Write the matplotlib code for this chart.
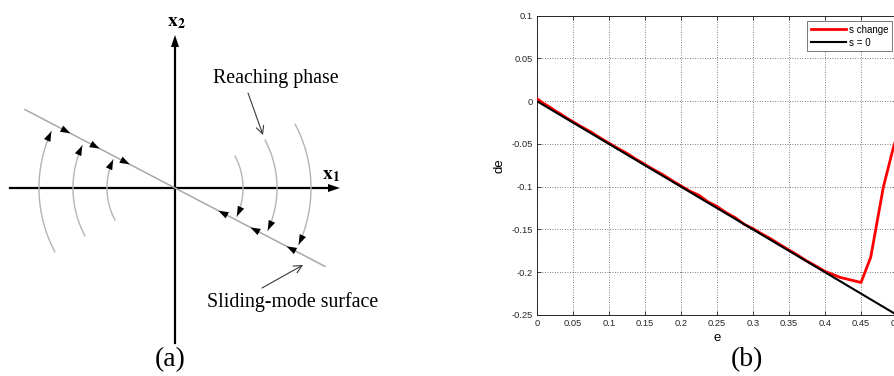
import numpy as np
import matplotlib
matplotlib.use("Agg")
import matplotlib.pyplot as plt
from matplotlib.patches import Polygon

plt.rcParams["axes.unicode_minus"] = False

# ---- (a) sliding-mode phase portrait (units: px, origin at axis crossing) ----
surface_angle = -27.6          # slope of the sliding surface, degrees
surface_ends = [-150, 150]     # x extent of the surface line
arc_radii = [68, 102, 136]
arc_start_left = 208           # arcs start below the x1 axis on the left
arc_start_right = 28           # and above it on the right
surface_arrow_dist_left = [51, 85, 118]
surface_arrow_dist_right = [49, 85, 126]

# ---- (b) phase trajectory e vs de ----
e_red = [0.000, 0.008, 0.016, 0.025, 0.033, 0.042, 0.050, 0.062, 0.075, 0.088,
         0.100, 0.112, 0.125, 0.138, 0.150, 0.162, 0.175, 0.188, 0.200, 0.212,
         0.225, 0.238, 0.250, 0.262, 0.275, 0.288, 0.300, 0.312, 0.325, 0.338,
         0.350, 0.362, 0.375, 0.388, 0.400, 0.421, 0.450, 0.4635, 0.481, 0.495,
         0.502]
de_red = [0.003, -0.002, -0.006, -0.011, -0.015, -0.020, -0.024, -0.030, -0.036, -0.043,
          -0.049, -0.055, -0.061, -0.068, -0.074, -0.080, -0.086, -0.093, -0.099, -0.105,
          -0.110, -0.118, -0.123, -0.130, -0.136, -0.144, -0.149, -0.155, -0.161, -0.168,
          -0.174, -0.180, -0.187, -0.193, -0.199, -0.206, -0.212, -0.1825, -0.1006, -0.054,
          -0.035]
e_s0 = [0.0, 0.5]
de_s0 = [0.0, -0.25]
xticks = [0, 0.05, 0.1, 0.15, 0.2, 0.25, 0.3, 0.35, 0.4, 0.45, 0.5]
xticklabels = ["0", "0.05", "0.1", "0.15", "0.2", "0.25", "0.3", "0.35", "0.4", "0.45", "0.5"]
yticks = [0.1, 0.05, 0, -0.05, -0.1, -0.15, -0.2, -0.25]
yticklabels = ["0.1", "0.05", "0", "-0.05", "-0.1", "-0.15", "-0.2", "-0.25"]

SERIF = "Liberation Serif"
SANS = "Liberation Sans"


def arrowhead(ax, x, y, angle_deg, length=10, half_width=3.5, color="black"):
    a = np.radians(angle_deg)
    d = np.array([np.cos(a), np.sin(a)])
    n = np.array([-d[1], d[0]])
    tip = np.array([x, y])
    base = tip - length * d
    pts = [tip, base + half_width * n, base - half_width * n]
    ax.add_patch(Polygon(pts, closed=True, color=color, lw=0, zorder=5))


fig = plt.figure(figsize=(8.95, 3.76), dpi=100)

ax_a = fig.add_axes([0, 0, 1, 1])
ax_a.set_xlim(-175, 720)
ax_a.set_ylim(-188, 188)
ax_a.axis("off")
ax_a.patch.set_alpha(0)

# coordinate axes
ax_a.plot([-165, 157], [0, 0], color="black", lw=1.6)
ax_a.plot([0, 0], [-155, 143], color="black", lw=1.6)
arrowhead(ax_a, 165, 0, 0, length=12, half_width=4)
arrowhead(ax_a, 0, 153, 90, length=12, half_width=4)
ax_a.text(156, 14, r"$\mathbf{x}_{\mathbf{1}}$", fontsize=14, math_fontfamily="stix",
          ha="center", va="center")
ax_a.text(1, 167, r"$\mathbf{x}_{\mathbf{2}}$", fontsize=14, math_fontfamily="stix",
          ha="center", va="center")

# sliding surface
slope = np.tan(np.radians(surface_angle))
sx = np.array(surface_ends)
ax_a.plot(sx, slope * sx, color="#a8a8a8", lw=1.1)

# reaching trajectories
for r in arc_radii:
    th = np.radians(np.linspace(arc_start_left, 180 + surface_angle + 3, 60))
    ax_a.plot(r * np.cos(th), r * np.sin(th), color="#b4b4b4", lw=1.0)
    end = th[-1]
    arrowhead(ax_a, r * np.cos(end), r * np.sin(end), np.degrees(end) - 90)

    th = np.radians(np.linspace(arc_start_right, surface_angle + 3, 60))
    ax_a.plot(r * np.cos(th), r * np.sin(th), color="#b4b4b4", lw=1.0)
    end = th[-1]
    arrowhead(ax_a, r * np.cos(end), r * np.sin(end), np.degrees(end) - 90)

# motion along the surface towards the origin
ca, sa = np.cos(np.radians(surface_angle)), np.sin(np.radians(surface_angle))
for d in surface_arrow_dist_left:
    arrowhead(ax_a, -d * ca, -d * sa, surface_angle)
for d in surface_arrow_dist_right:
    arrowhead(ax_a, d * ca, d * sa, surface_angle + 180)

ax_a.text(38, 109, "Reaching phase", family=SERIF, fontsize=14.3, ha="left", va="center")
ax_a.annotate("", xy=(88, 53), xytext=(73, 95),
              arrowprops=dict(arrowstyle="->", color="#3a3a3a", lw=0.8,
                              mutation_scale=14, shrinkA=0, shrinkB=0))
ax_a.text(32, -114, "Sliding-mode surface", family=SERIF, fontsize=14.3, ha="left", va="center")
ax_a.annotate("", xy=(128, -77), xytext=(87, -100),
              arrowprops=dict(arrowstyle="->", color="#3a3a3a", lw=0.8,
                              mutation_scale=14, shrinkA=0, shrinkB=0))
ax_a.text(-5, -172, "(a)", family=SERIF, fontsize=20, ha="center", va="center")
ax_a.text(572, -172, "(b)", family=SERIF, fontsize=20, ha="center", va="center")

# ---- (b) ----
ax_b = fig.add_axes([537 / 895, 61 / 376, 360 / 895, 299.3 / 376])
ax_b.plot(e_red, de_red, color="#ff0000", lw=2.0, label="s change", zorder=3)
ax_b.plot(e_s0, de_s0, color="black", lw=1.5, label="s = 0", zorder=4)
ax_b.set_xlim(0, 0.5)
ax_b.set_ylim(-0.25, 0.1)
ax_b.set_xticks(xticks)
ax_b.set_xticklabels(xticklabels)
ax_b.set_yticks(yticks)
ax_b.set_yticklabels(yticklabels)
ax_b.tick_params(direction="in", length=3, width=0.6, labelsize=6.7, pad=3,
                 top=True, right=True, colors="#262626")
for lab in ax_b.get_xticklabels() + ax_b.get_yticklabels():
    lab.set_family(SANS)
ax_b.grid(True, linestyle=(0, (1, 2)), color="#555555", lw=0.6)
for sp in ax_b.spines.values():
    sp.set_linewidth(0.7)
    sp.set_color("#262626")
ax_b.set_xlabel("e", family=SANS, fontsize=9.5, labelpad=3)
ax_b.set_ylabel("de", family=SANS, fontsize=9.5, labelpad=4)
leg = ax_b.legend(loc="upper right", bbox_to_anchor=(0.986, 0.983), borderaxespad=0,
                  prop={"family": SANS, "size": 7}, handlelength=3.6,
                  handletextpad=0.3, borderpad=0.4, labelspacing=0.3,
                  fancybox=False, framealpha=1, edgecolor="#777777")
leg.get_frame().set_linewidth(0.7)

fig.savefig("out.png", dpi=100)
